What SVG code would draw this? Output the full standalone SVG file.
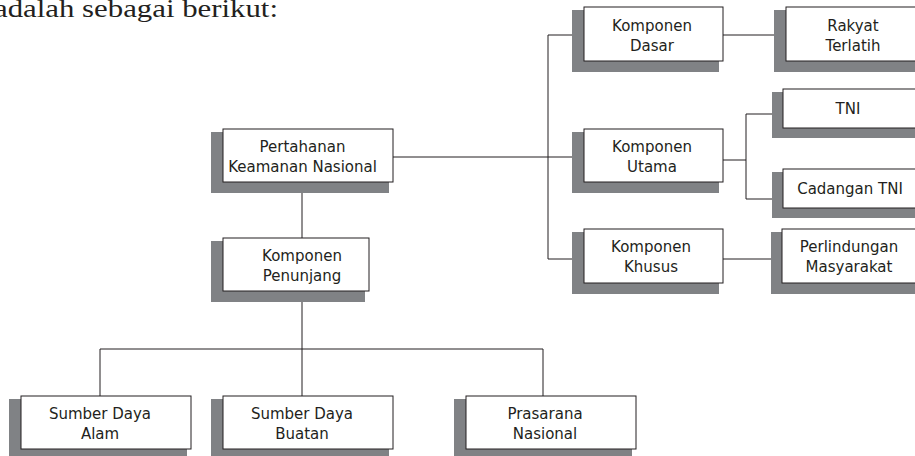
<svg xmlns="http://www.w3.org/2000/svg" width="915" height="456" viewBox="0 0 915 456">
<style>
.sh{fill:#808285}
.bx{fill:#fff;stroke:#231f20;stroke-width:1}
.t{font-family:"DejaVu Sans","Liberation Sans",sans-serif;font-size:15px;fill:#231f20;text-anchor:middle}
.c{fill:none;stroke:#231f20;stroke-width:1}
.title{font-family:"Liberation Serif","DejaVu Serif",serif;font-size:25px;fill:#231f20}
</style>
<rect width="915" height="456" fill="#fff"/>
<text class="title" x="-6" y="17" textLength="284" lengthAdjust="spacingAndGlyphs">adalah sebagai berikut:</text>
<g id="connectors">
<path class="c" d="M393,157H584"/>
<path class="c" d="M548,35V259"/>
<path class="c" d="M548,35H584"/>
<path class="c" d="M548,259H584"/>
<path class="c" d="M723,35H786"/>
<path class="c" d="M723,160H746M746,114V199M746,114H783M746,199H783"/>
<path class="c" d="M723,259H782"/>
<path class="c" d="M302,182V238"/>
<path class="c" d="M302,291V396"/>
<path class="c" d="M100,349H543M100,349V396M543,349V396"/>
</g>
<g id="pertahanan">
<rect class="sh" x="211" y="132" width="178" height="61"/>
<rect class="bx" x="223" y="129" width="170" height="53"/>
<text class="t" x="302.5" y="151.5">Pertahanan</text>
<text class="t" x="302.5" y="171.5">Keamanan Nasional</text>
</g>
<g id="dasar">
<rect class="sh" x="572" y="10" width="147" height="62"/>
<rect class="bx" x="584" y="7" width="139" height="54"/>
<text class="t" x="652" y="30.5">Komponen</text>
<text class="t" x="652" y="50.5">Dasar</text>
</g>
<g id="utama">
<rect class="sh" x="572" y="132" width="147" height="61"/>
<rect class="bx" x="584" y="129" width="139" height="53"/>
<text class="t" x="652" y="151.5">Komponen</text>
<text class="t" x="652" y="171.5">Utama</text>
</g>
<g id="khusus">
<rect class="sh" x="572" y="232" width="147" height="62"/>
<rect class="bx" x="584" y="229" width="139" height="54"/>
<text class="t" x="651" y="252">Komponen</text>
<text class="t" x="651" y="272">Khusus</text>
</g>
<g id="rakyat">
<rect class="sh" x="774" y="10" width="148" height="62"/>
<rect class="bx" x="786" y="7" width="140" height="54"/>
<text class="t" x="853" y="30.5">Rakyat</text>
<text class="t" x="853" y="50.5">Terlatih</text>
</g>
<g id="tni">
<rect class="sh" x="772" y="92" width="148" height="46"/>
<rect class="bx" x="783" y="89" width="140" height="39"/>
<text class="t" x="848" y="113.5">TNI</text>
</g>
<g id="cadangan">
<rect class="sh" x="772" y="172" width="148" height="46"/>
<rect class="bx" x="783" y="169" width="140" height="39"/>
<text class="t" x="850" y="193.5">Cadangan TNI</text>
</g>
<g id="perlindungan">
<rect class="sh" x="771" y="232" width="148" height="62"/>
<rect class="bx" x="782" y="229" width="140" height="54"/>
<text class="t" x="849" y="252">Perlindungan</text>
<text class="t" x="849" y="272">Masyarakat</text>
</g>
<g id="penunjang">
<rect class="sh" x="211" y="241" width="154" height="61"/>
<rect class="bx" x="223" y="238" width="146" height="53"/>
<text class="t" x="302" y="260.5">Komponen</text>
<text class="t" x="302" y="280.5">Penunjang</text>
</g>
<g id="alam">
<rect class="sh" x="9" y="399" width="178" height="57"/>
<rect class="bx" x="21" y="396" width="170" height="53"/>
<text class="t" x="100" y="418.5">Sumber Daya</text>
<text class="t" x="100" y="438.5">Alam</text>
</g>
<g id="buatan">
<rect class="sh" x="211" y="399" width="178" height="57"/>
<rect class="bx" x="223" y="396" width="170" height="53"/>
<text class="t" x="302" y="418.5">Sumber Daya</text>
<text class="t" x="302" y="438.5">Buatan</text>
</g>
<g id="prasarana">
<rect class="sh" x="454" y="399" width="178" height="57"/>
<rect class="bx" x="466" y="396" width="170" height="53"/>
<text class="t" x="545" y="418.5">Prasarana</text>
<text class="t" x="545" y="438.5">Nasional</text>
</g>
</svg>
